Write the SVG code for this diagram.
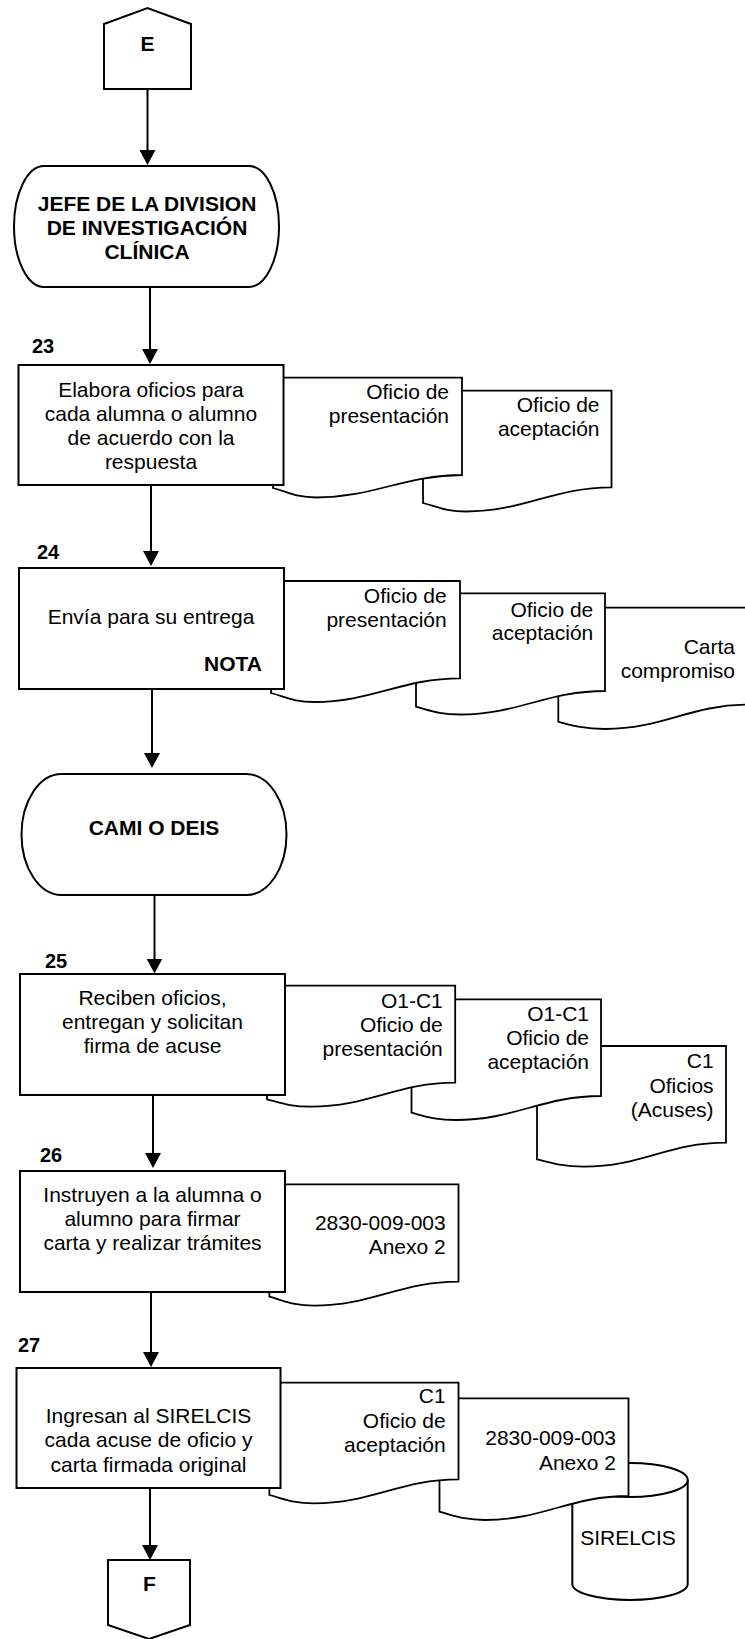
<svg xmlns="http://www.w3.org/2000/svg" width="745" height="1639" viewBox="0 0 745 1639">
  <defs>
    <marker id="arrow" markerUnits="userSpaceOnUse" viewBox="0 0 15 16" refX="11" refY="8" markerWidth="15" markerHeight="16" orient="auto">
      <path d="M0,0 L15,8 L0,16 Z" fill="#000"/>
    </marker>
    <style>
      .shape { fill: #fff; stroke: #000; stroke-width: 2; }
      .doc { fill: #fff; stroke: #000; stroke-width: 1.8; }
      .conn { fill: none; stroke: #000; stroke-width: 2; marker-end: url(#arrow); }
      text { font-family: "Liberation Sans", Arial, sans-serif; font-size: 21px; fill: #000; }
      .b { font-weight: bold; }
      .m { text-anchor: middle; }
      .e { text-anchor: end; }
      .lbl { font-size: 20px; font-weight: bold; }
    </style>
  </defs>

  <rect width="745" height="1639" fill="#fff"/>

  <!-- connectors -->
  <g id="connectors">
    <line class="conn" x1="147.5" y1="89" x2="147.5" y2="161"/>
    <line class="conn" x1="150" y1="287" x2="150" y2="360"/>
    <line class="conn" x1="151" y1="485" x2="151" y2="562"/>
    <line class="conn" x1="152" y1="689" x2="152" y2="764"/>
    <line class="conn" x1="154.5" y1="895" x2="154.5" y2="969.5"/>
    <line class="conn" x1="153" y1="1095" x2="153" y2="1164"/>
    <line class="conn" x1="151" y1="1292" x2="151" y2="1363"/>
    <line class="conn" x1="150" y1="1488" x2="150" y2="1556"/>
  </g>

  <!-- off-page connector E -->
  <g id="connector-E">
    <polygon class="shape" points="104,24 147.5,8 191,24 191,89 104,89"/>
    <text class="b m" x="147.5" y="51">E</text>
  </g>

  <!-- JEFE terminator -->
  <g id="jefe-division">
    <rect class="shape" x="14" y="166" width="265" height="121" rx="30" ry="60.5"/>
    <text class="b m" x="147" y="211">JEFE DE LA DIVISION</text>
    <text class="b m" x="147" y="235">DE INVESTIGACIÓN</text>
    <text class="b m" x="147" y="259">CLÍNICA</text>
  </g>

  <!-- step 23 -->
  <g id="doc-23-2">
    <path class="doc" d="M423,390.7 H611.5 V487.3 C553.5,487.3 524,511.5 466,511.5 C446,511.5 438,507 423,503 Z"/>
    <text class="e" x="599.5" y="411.5">Oficio de</text>
    <text class="e" x="599.5" y="436">aceptación</text>
  </g>
  <g id="doc-23-1">
    <path class="doc" d="M273,377.7 H462 V475 C404,475 374,497.5 316,497.5 C296,497.5 288,492 273,488 Z"/>
    <text class="e" x="449" y="399">Oficio de</text>
    <text class="e" x="449" y="423">presentación</text>
  </g>
  <g id="step-23">
    <text class="lbl" x="32" y="353">23</text>
    <rect class="shape" x="18.5" y="365" width="265" height="120"/>
    <text class="m" x="151" y="397">Elabora oficios para</text>
    <text class="m" x="151" y="421">cada alumna o alumno</text>
    <text class="m" x="151" y="445">de acuerdo con la</text>
    <text class="m" x="151" y="469">respuesta</text>
  </g>

  <!-- step 24 -->
  <g id="doc-24-3">
    <path class="doc" d="M558.3,607.7 H748 V704.7 C690,704.7 663,729 605,729 C585,729 573,725.7 558.3,721.7 Z"/>
    <text class="e" x="735" y="653.5">Carta</text>
    <text class="e" x="735" y="677.5">compromiso</text>
  </g>
  <g id="doc-24-2">
    <path class="doc" d="M416,593.3 H605 V691 C547,691 518,714.5 460,714.5 C440,714.5 431,710.7 416,706.7 Z"/>
    <text class="e" x="593.3" y="616.7">Oficio de</text>
    <text class="e" x="593.3" y="640">aceptación</text>
  </g>
  <g id="doc-24-1">
    <path class="doc" d="M271,581 H460 V678.3 C402,678.3 372,702 314,702 C294,702 286,697 271,693 Z"/>
    <text class="e" x="446.7" y="603.3">Oficio de</text>
    <text class="e" x="446.7" y="627">presentación</text>
  </g>
  <g id="step-24">
    <text class="lbl" x="37" y="558.5">24</text>
    <rect class="shape" x="19" y="568" width="265" height="121"/>
    <text class="m" x="151" y="624">Envía para su entrega</text>
    <text class="b e" x="262" y="671">NOTA</text>
  </g>

  <!-- CAMI O DEIS terminator -->
  <g id="cami-deis">
    <rect class="shape" x="21.5" y="774" width="265" height="121" rx="40" ry="60.5"/>
    <text class="b m" x="154" y="835">CAMI O DEIS</text>
  </g>

  <!-- step 25 -->
  <g id="doc-25-3">
    <path class="doc" d="M537,1046 H726 V1142.7 C668,1142.7 642,1166.7 584,1166.7 C564,1166.7 552,1163.3 537,1159.3 Z"/>
    <text class="e" x="713.6" y="1068.3">C1</text>
    <text class="e" x="713.6" y="1092.5">Oficios</text>
    <text class="e" x="713.6" y="1116.7">(Acuses)</text>
  </g>
  <g id="doc-25-2">
    <path class="doc" d="M411.5,999.3 H601 V1096 C543,1096 514,1120 456,1120 C436,1120 426.5,1116.7 411.5,1112.7 Z"/>
    <text class="e" x="589" y="1020.7">O1-C1</text>
    <text class="e" x="589" y="1045">Oficio de</text>
    <text class="e" x="589" y="1069.3">aceptación</text>
  </g>
  <g id="doc-25-1">
    <path class="doc" d="M267,985.7 H455.2 V1082.7 C397.2,1082.7 369,1106.7 311,1106.7 C291,1106.7 282,1103.3 267,1099.3 Z"/>
    <text class="e" x="442.8" y="1008.3">O1-C1</text>
    <text class="e" x="442.8" y="1032">Oficio de</text>
    <text class="e" x="442.8" y="1056">presentación</text>
  </g>
  <g id="step-25">
    <text class="lbl" x="45" y="968">25</text>
    <rect class="shape" x="20" y="974" width="265" height="121"/>
    <text class="m" x="152.5" y="1005">Reciben oficios,</text>
    <text class="m" x="152.5" y="1029">entregan y solicitan</text>
    <text class="m" x="152.5" y="1053">firma de acuse</text>
  </g>

  <!-- step 26 -->
  <g id="doc-26-1">
    <path class="doc" d="M269.4,1184.3 H458.5 V1281.7 C400.5,1281.7 371.6,1305.7 313.6,1305.7 C293.6,1305.7 284.4,1300.7 269.4,1296.7 Z"/>
    <text class="e" x="445.7" y="1230">2830-009-003</text>
    <text class="e" x="445.7" y="1254">Anexo 2</text>
  </g>
  <g id="step-26">
    <text class="lbl" x="40" y="1161.5">26</text>
    <rect class="shape" x="20" y="1171" width="265" height="121"/>
    <text class="m" x="152.5" y="1202">Instruyen a la alumna o</text>
    <text class="m" x="152.5" y="1226">alumno para firmar</text>
    <text class="m" x="152.5" y="1250">carta y realizar trámites</text>
  </g>

  <!-- step 27 -->
  <g id="db-sirelcis">
    <path class="shape" d="M572.3,1480 A57.7,17 0 0 1 687.7,1480 V1584 A57.7,16 0 0 1 572.3,1584 Z"/>
    <path class="shape" fill="none" d="M572.3,1480 A57.7,17 0 0 0 687.7,1480"/>
    <text class="m" x="628" y="1545">SIRELCIS</text>
  </g>
  <g id="doc-27-2">
    <path class="doc" d="M439.5,1398.3 H628.5 V1496 C570.5,1496 542.6,1520 484.6,1520 C464.6,1520 454.5,1515.7 439.5,1511.7 Z"/>
    <text class="e" x="616" y="1445">2830-009-003</text>
    <text class="e" x="616" y="1470">Anexo 2</text>
  </g>
  <g id="doc-27-1">
    <path class="doc" d="M269.4,1382.7 H458.5 V1479.3 C400.5,1479.3 371.6,1503.3 313.6,1503.3 C293.6,1503.3 284.4,1499 269.4,1495 Z"/>
    <text class="e" x="445.7" y="1403.3">C1</text>
    <text class="e" x="445.7" y="1428">Oficio de</text>
    <text class="e" x="445.7" y="1452">aceptación</text>
  </g>
  <g id="step-27">
    <text class="lbl" x="18" y="1351.5">27</text>
    <rect class="shape" x="16.5" y="1368" width="264" height="120"/>
    <text class="m" x="148.5" y="1423">Ingresan al SIRELCIS</text>
    <text class="m" x="148.5" y="1447">cada acuse de oficio y</text>
    <text class="m" x="148.5" y="1471.5">carta firmada original</text>
  </g>

  <!-- off-page connector F -->
  <g id="connector-F">
    <polygon class="shape" points="108,1560 190,1560 190,1625 149,1639 108,1625"/>
    <text class="b m" x="149.5" y="1591">F</text>
  </g>
</svg>
